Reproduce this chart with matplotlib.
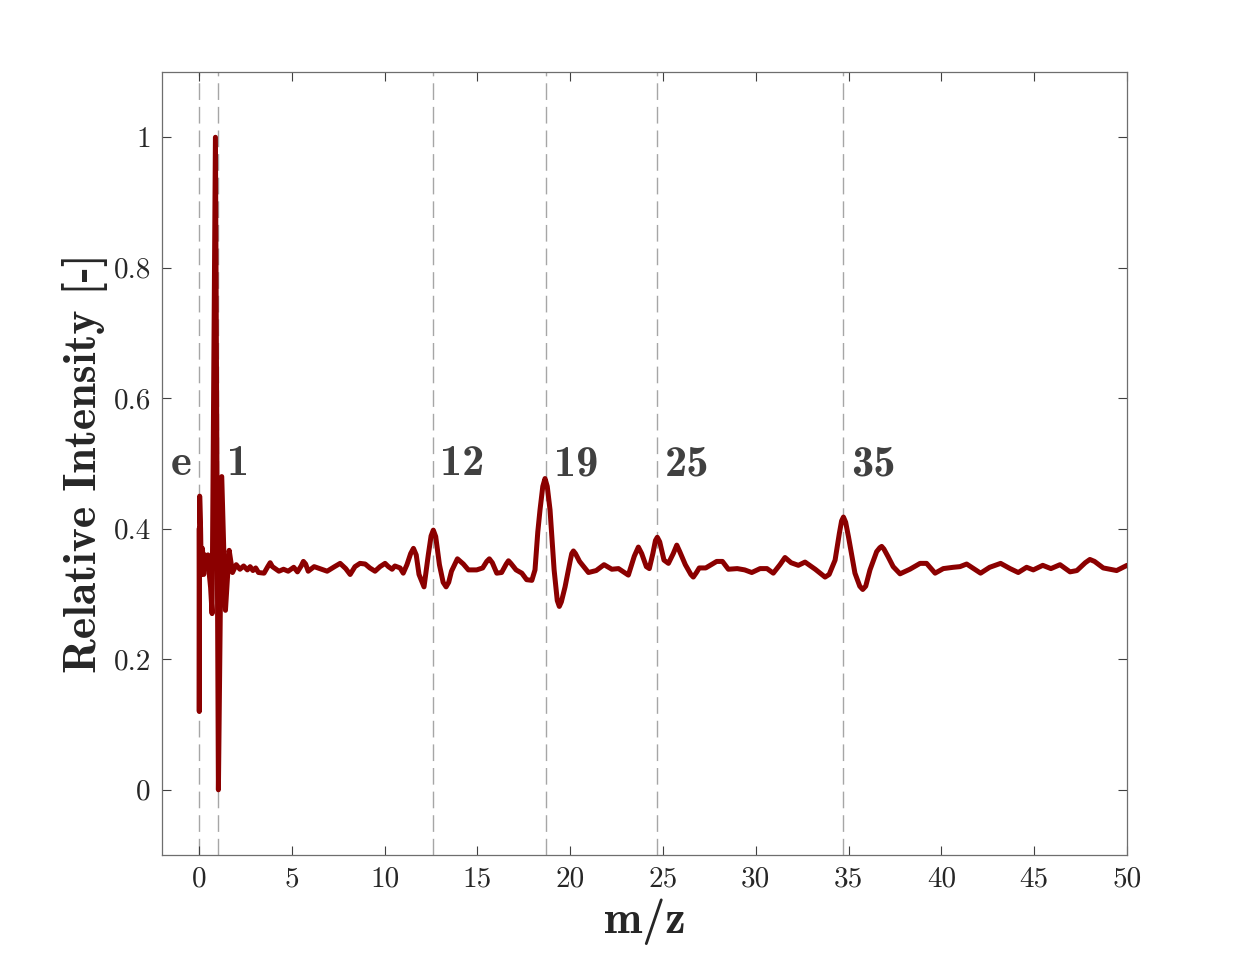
import matplotlib
matplotlib.use("Agg")
import matplotlib.pyplot as plt

# ---- data ----
mz = [0.00, 0.01, 0.03, 0.08, 0.12, 0.18, 0.25, 0.32, 0.40, 0.48, 0.55, 0.62, 0.70,
      0.88, 1.04, 1.22, 1.42, 1.62, 1.80, 2.0, 2.2, 2.4, 2.6, 2.75, 2.9, 3.05, 3.2,
      3.5, 3.7, 3.83, 3.95, 4.3, 4.55, 4.8, 5.1, 5.3, 5.5, 5.62, 5.74, 5.88, 6.2, 6.6,
      6.9, 7.3, 7.6, 7.9, 8.14, 8.4, 8.67, 8.95, 9.2, 9.48, 9.75, 10.02, 10.2, 10.4,
      10.55, 10.83, 11.0, 11.2, 11.4, 11.55, 11.7, 11.85, 12.12, 12.35, 12.5, 12.62,
      12.75, 12.95, 13.15, 13.31, 13.45, 13.6, 13.92, 14.24, 14.51, 14.96, 15.28,
      15.5, 15.64, 15.8, 16.04, 16.3, 16.55, 16.67, 16.8, 17.08, 17.39, 17.65, 17.93,
      18.1, 18.25, 18.37, 18.52, 18.64, 18.76, 18.91, 19.13, 19.3, 19.41, 19.52,
      19.72, 19.99, 20.08, 20.17, 20.28, 20.5, 20.98, 21.4, 21.82, 22.24, 22.6, 23.13,
      23.45, 23.67, 23.85, 24.1, 24.26, 24.45, 24.59, 24.69, 24.82, 25.05, 25.29,
      25.55, 25.74, 25.9, 26.2, 26.5, 26.63, 26.8, 26.95, 27.3, 27.89, 28.2, 28.52,
      29.0, 29.4, 29.78, 30.23, 30.6, 30.94, 31.3, 31.57, 31.9, 32.29, 32.65, 33.2,
      33.73, 33.95, 34.27, 34.5, 34.62, 34.72, 34.84, 34.99, 35.34, 35.6, 35.76,
      35.92, 36.15, 36.51, 36.68, 36.78, 36.9, 37.13, 37.4, 37.77, 38.3, 38.85, 39.2,
      39.66, 40.1, 40.64, 41.0, 41.36, 42.11, 42.6, 43.19, 43.7, 44.14, 44.59, 44.95,
      45.46, 45.9, 46.39, 46.93, 47.3, 47.75, 48.0, 48.25, 48.72, 49.44, 50.0]
intensity = [0.40, 0.12, 0.45, 0.40, 0.33, 0.37, 0.33, 0.36, 0.34, 0.36, 0.33, 0.31, 0.27,
             1.00, 0.00, 0.48, 0.275, 0.367, 0.333, 0.345, 0.338, 0.343, 0.337, 0.342,
             0.336, 0.340, 0.333, 0.332, 0.342, 0.348, 0.342, 0.335, 0.338, 0.335, 0.341,
             0.334, 0.343, 0.350, 0.346, 0.335, 0.342, 0.338, 0.335, 0.342, 0.347, 0.339,
             0.330, 0.342, 0.347, 0.346, 0.340, 0.335, 0.342, 0.347, 0.342, 0.338, 0.343,
             0.340, 0.332, 0.345, 0.362, 0.370, 0.360, 0.330, 0.311, 0.360, 0.389, 0.398,
             0.388, 0.345, 0.318, 0.311, 0.318, 0.335, 0.354, 0.346, 0.337, 0.337, 0.340,
             0.350, 0.354, 0.348, 0.332, 0.333, 0.346, 0.351, 0.347, 0.337, 0.332, 0.322,
             0.321, 0.337, 0.395, 0.429, 0.465, 0.477, 0.465, 0.429, 0.337, 0.290, 0.281,
             0.288, 0.311, 0.350, 0.362, 0.366, 0.362, 0.350, 0.333, 0.336, 0.345, 0.338,
             0.339, 0.329, 0.358, 0.372, 0.362, 0.342, 0.339, 0.362, 0.382, 0.387, 0.380,
             0.352, 0.347, 0.362, 0.375, 0.365, 0.345, 0.330, 0.326, 0.333, 0.340, 0.340,
             0.350, 0.350, 0.338, 0.339, 0.337, 0.333, 0.339, 0.339, 0.332, 0.345, 0.356,
             0.348, 0.344, 0.349, 0.338, 0.326, 0.330, 0.352, 0.393, 0.412, 0.418, 0.410,
             0.388, 0.332, 0.312, 0.307, 0.312, 0.337, 0.365, 0.371, 0.373, 0.369, 0.357,
             0.342, 0.331, 0.338, 0.347, 0.347, 0.332, 0.339, 0.341, 0.342, 0.346, 0.332,
             0.341, 0.347, 0.339, 0.333, 0.341, 0.337, 0.344, 0.339, 0.345, 0.334, 0.336,
             0.348, 0.353, 0.350, 0.340, 0.336, 0.344]

marker_x = [0.0, 1.0, 12.6, 18.68, 24.66, 34.72]
label_text = ["e", "1", "12", "19", "25", "35"]
label_x = [-1.55, 1.5, 13.0, 19.1, 25.1, 35.15]
label_y = 0.482

xticks = [0, 5, 10, 15, 20, 25, 30, 35, 40, 45, 50]
yticks = [0, 0.2, 0.4, 0.6, 0.8, 1]
ytick_labels = ["0", "0.2", "0.4", "0.6", "0.8", "1"]

# ---- figure ----
fig = plt.figure(figsize=(12.46, 9.63), dpi=100)
ax = fig.add_axes([0.130, 0.1121, 0.7745, 0.8131])

for xm in marker_x:
    ax.axvline(xm, color="#a6a6a6", lw=1.0, dashes=(12, 5), zorder=1)

ax.plot(mz, intensity, color="#8b0000", lw=3.6, solid_joinstyle="round",
        solid_capstyle="round", zorder=3)

for t, xl in zip(label_text, label_x):
    ax.text(xl, label_y, t, fontfamily="cmb10", fontsize=32, color="#404040",
            ha="left", va="baseline", zorder=4)

ax.set_xlim(-2, 50)
ax.set_ylim(-0.1, 1.1)
ax.set_xticks(xticks)
ax.set_xticklabels([str(v) for v in xticks])
ax.set_yticks(yticks)
ax.set_yticklabels(ytick_labels)

for lab in ax.get_xticklabels() + ax.get_yticklabels():
    lab.set_fontfamily("cmr10")
    lab.set_fontsize(21)
    lab.set_color("#262626")

ax.tick_params(direction="in", length=6.5, width=0.8, color="#404040",
               top=True, right=True, pad=8)

for s in ax.spines.values():
    s.set_color("#6e6e6e")
    s.set_linewidth(0.9)

ax.set_xlabel("m/z", fontfamily="cmb10", fontsize=33, color="#262626", labelpad=4)
ax.set_ylabel("Relative Intensity [-]", fontfamily="cmb10", fontsize=33,
              color="#262626", labelpad=4)

fig.savefig("out.png", dpi=100, facecolor="white")
